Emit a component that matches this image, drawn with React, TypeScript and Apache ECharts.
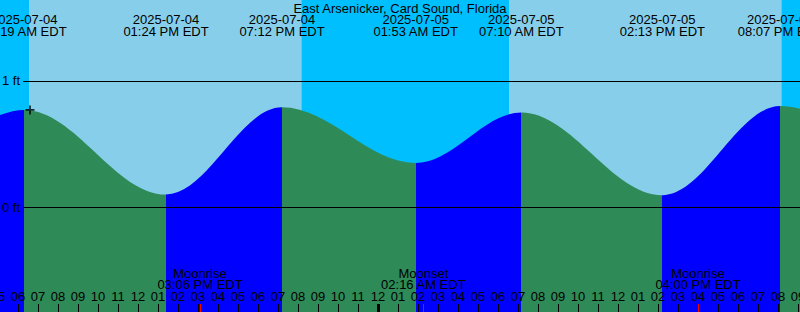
import React, { useEffect, useRef } from 'react';
import * as echarts from 'echarts';

const TITLE = 'East Arsenicker, Card Sound, Florida';
const TZ = 'EDT';

// Tide extremes (one before and one after the visible window included)
const tideDates = ['2025-07-04', '2025-07-04', '2025-07-04', '2025-07-04', '2025-07-05', '2025-07-05', '2025-07-05', '2025-07-05', '2025-07-06'];
const tideTimes = ['01:00 AM', '06:19 AM', '01:24 PM', '07:12 PM', '01:53 AM', '07:10 AM', '02:13 PM', '08:07 PM', '02:40 AM'];
const tideHeights = [0.35, 0.77, 0.1, 0.79, 0.35, 0.75, 0.095, 0.8, 0.35];

// Daylight
const sunriseDates = ['2025-07-04', '2025-07-05'];
const sunriseTimes = ['06:33 AM', '06:33 AM'];
const sunsetDates = ['2025-07-04', '2025-07-05'];
const sunsetTimes = ['08:11 PM', '08:11 PM'];

// Moon events
const moonEvents = ['Moonrise', 'Moonset', 'Moonrise'];
const moonDates = ['2025-07-04', '2025-07-05', '2025-07-05'];
const moonTimes = ['03:06 PM', '02:16 AM', '04:00 PM'];

// Current-time marker
const markerDate = '2025-07-04';
const markerTime = '06:36 AM';
const markerHeight = 0.77;

// Window and axes
const windowStart = ['2025-07-04', '05:00 AM'];
const windowEnd = ['2025-07-05', '09:06 PM'];
const depthTicks = [0, 1];
const depthMin = -0.83;
const depthMax = 1.64;

const DAY = '#87CEEB';
const NIGHT = '#00BFFF';
const RISE = '#0000FF';
const FALL = '#2E8B57';
const FONT = 'Liberation Sans';

function toHours(date: string, time: string): number {
  const [y, m, d] = date.split('-').map(Number);
  const dayOffset = (Date.UTC(y, m - 1, d) - Date.UTC(2025, 6, 4)) / 86400000;
  const [hm, ap] = time.split(' ');
  let [hh, mm] = hm.split(':').map(Number);
  if (ap === 'PM' && hh !== 12) hh += 12;
  if (ap === 'AM' && hh === 12) hh = 0;
  return dayOffset * 24 + hh + mm / 60;
}

export default function App() {
  const ref = useRef<HTMLDivElement>(null);
  useEffect(() => {
    if (!ref.current) return;
    const chart = echarts.init(ref.current, undefined, { renderer: 'svg' });

    const xMin = toHours(windowStart[0], windowStart[1]);
    const xMax = toHours(windowEnd[0], windowEnd[1]);
    const tideHours = tideDates.map((d, i) => toHours(d, tideTimes[i]));
    const tideData = tideHours.map((h, i) => [h, tideHeights[i]]);
    const visibleTide = tideHours.filter((h) => h >= xMin && h <= xMax);

    const pieces: any[] = [];
    for (let i = 0; i < tideHours.length - 1; i++) {
      pieces.push({
        gte: tideHours[i],
        lt: tideHours[i + 1],
        color: tideHeights[i + 1] > tideHeights[i] ? RISE : FALL,
      });
    }

    const dayAreas = sunriseDates.map((d, i) => [
      { xAxis: toHours(d, sunriseTimes[i]) },
      { xAxis: toHours(sunsetDates[i], sunsetTimes[i]) },
    ]);

    const hourValues: number[] = [];
    for (let h = Math.ceil(xMin); h <= Math.floor(xMax); h++) hourValues.push(h);
    const midnightValues = hourValues.filter((h) => h % 24 === 0);
    const moonHours = moonDates.map((d, i) => toHours(d, moonTimes[i]));

    const hourLabel = (v: number) => {
      const h = ((Math.round(v) % 24) + 24) % 24;
      const h12 = h % 12 === 0 ? 12 : h % 12;
      return String(h12).padStart(2, '0');
    };
    const findIdx = (arr: number[], v: number) => arr.findIndex((a) => Math.abs(a - v) < 1e-6);

    const noLine = { show: false, onZero: false };
    const txt = { color: '#000', fontSize: 13, fontFamily: FONT };

    chart.setOption({
      animation: false,
      backgroundColor: NIGHT,
      textStyle: { fontFamily: FONT, fontSize: 13, color: '#000' },
      title: {
        text: TITLE,
        left: 'center',
        top: 0,
        padding: 0,
        textStyle: { ...txt, fontWeight: 'normal', lineHeight: 16 },
      },
      grid: { left: -2, right: 0, top: 0, bottom: 0, containLabel: false, outerBoundsMode: 'none' },
      visualMap: {
        type: 'piecewise',
        show: false,
        dimension: 0,
        seriesIndex: 0,
        pieces,
      },
      xAxis: [
        {
          type: 'value', min: xMin, max: xMax, position: 'bottom', z: 10,
          axisLine: noLine, splitLine: { show: false },
          axisTick: { show: true, inside: true, length: 8, customValues: hourValues, lineStyle: { color: '#000', width: 1 } },
          axisLabel: { show: true, inside: true, margin: 9, customValues: hourValues, formatter: hourLabel, ...txt, lineHeight: 13 },
        },
        {
          type: 'value', min: xMin, max: xMax, position: 'bottom', z: 11,
          axisLine: noLine, splitLine: { show: false },
          axisTick: { show: true, inside: true, length: 8, customValues: midnightValues, lineStyle: { color: '#000', width: 3 } },
          axisLabel: { show: false },
        },
        {
          type: 'value', min: xMin, max: xMax, position: 'bottom', z: 11,
          axisLine: noLine, splitLine: { show: false },
          axisTick: { show: true, inside: true, length: 8, customValues: moonHours, lineStyle: { color: '#FF0000', width: 1 } },
          axisLabel: {
            show: true, inside: true, margin: 22, customValues: moonHours, ...txt, lineHeight: 11,
            formatter: (v: number) => {
              const i = findIdx(moonHours, v);
              return i < 0 ? '' : `${moonEvents[i]}\n${moonTimes[i]} ${TZ}`;
            },
          },
        },
        {
          type: 'value', min: xMin, max: xMax, position: 'top', z: 10,
          axisLine: noLine, splitLine: { show: false },
          axisTick: { show: false },
          axisLabel: {
            show: true, inside: true, margin: 13, customValues: visibleTide, ...txt, lineHeight: 12,
            formatter: (v: number) => {
              const i = findIdx(tideHours, v);
              return i < 0 ? '' : `${tideDates[i]}\n${tideTimes[i]} ${TZ}`;
            },
          },
        },
      ],
      yAxis: {
        type: 'value', min: depthMin, max: depthMax, z: 10,
        axisLine: noLine, axisTick: { show: false }, splitLine: { show: false },
        axisLabel: {
          show: true, inside: true, margin: 0, customValues: depthTicks,
          formatter: (v: number) => (v >= 0.5 ? `{n|${v} ft}` : `{r|${v} ft}`),
          rich: {
            n: { ...txt, backgroundColor: NIGHT, padding: [1, 3, 1, 4] },
            r: { ...txt, backgroundColor: RISE, padding: [1, 3, 1, 4] },
          },
        },
      },
      series: [
        {
          type: 'line',
          xAxisIndex: 0,
          yAxisIndex: 0,
          data: tideData,
          smooth: 0.36,
          smoothMonotone: 'x',
          showSymbol: false,
          lineStyle: { width: 0 },
          areaStyle: { opacity: 1, origin: 'start' },
          z: 2,
          silent: true,
          markArea: {
            silent: true,
            itemStyle: { color: DAY },
            data: dayAreas,
          },
          markLine: {
            silent: true,
            symbol: ['none', 'none'],
            label: { show: false },
            lineStyle: { color: '#000', width: 1, type: 'solid' },
            data: depthTicks.map((v) => ({ yAxis: v })),
          },
        },
        {
          type: 'scatter',
          xAxisIndex: 0,
          yAxisIndex: 0,
          z: 7,
          silent: true,
          symbol: 'path://M4 0h2v10h-2z M0 4h10v2h-10z',
          symbolSize: 9,
          itemStyle: { color: '#000' },
          data: [[toHours(markerDate, markerTime), markerHeight]],
        },
      ],
    });

    return () => chart.dispose();
  }, []);

  return (
    <div
      ref={ref}
      style={{ position: 'fixed', left: 0, top: 0, width: 800, height: 312 }}
    />
  );
}
